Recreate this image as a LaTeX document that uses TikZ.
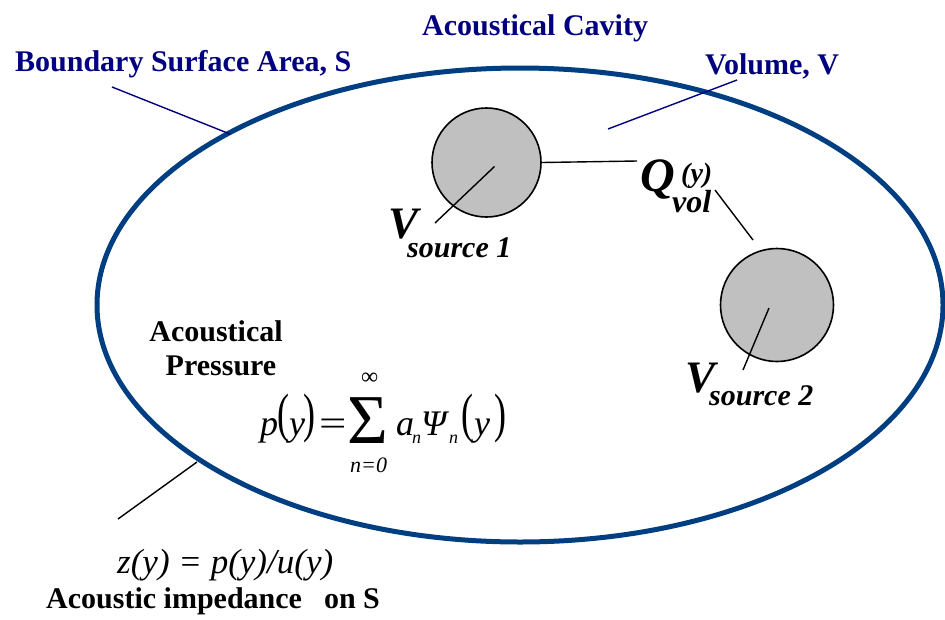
\documentclass[tikz,border=0pt]{standalone}
\usepackage{fontspec}
\usepackage{graphicx}
\setmainfont{Liberation Serif}
\definecolor{navytext}{RGB}{0,0,128}
\definecolor{cavblue}{RGB}{0,62,130}
\definecolor{srcgray}{RGB}{192,192,192}
\tikzset{
  lbl/.style={anchor=base west, inner sep=0pt, font=\fontsize{30}{34}\selectfont\bfseries},
  navylbl/.style={lbl, text=navytext},
  bi/.style={anchor=base west, inner sep=0pt},
  fm/.style={anchor=base west, inner sep=0pt, font=\fontsize{36}{40}\selectfont\itshape},
  fup/.style={anchor=base west, inner sep=0pt, font=\fontsize{36}{40}\selectfont},
  fsub/.style={anchor=base west, inner sep=0pt, font=\fontsize{18}{20}\selectfont\itshape},
  srcball/.style={circle, draw=black, line width=1.6pt, fill=srcgray, inner sep=0pt},
  navyleader/.style={draw=navytext, line width=1.4pt},
  leader/.style={draw=black, line width=1.4pt},
}
\begin{document}
\begin{tikzpicture}[x=1pt,y=-1pt]
\useasboundingbox (0,0) rectangle (945,619);
% cavity
\draw[cavblue, line width=5pt] (520,305) ellipse [x radius=423pt, y radius=237pt];
% sources
\node[srcball, minimum size=109pt] (c1) at (486.5,162.5) {};
\node[srcball, minimum size=113pt] (c2) at (777,305) {};
% titles
\node[navylbl] (cav) at (422,35) {Acoustical Cavity};
\node[navylbl] (bsa) at (15,71) {Boundary Surface Area, S};
\node[navylbl] (vol) at (705,74) {Volume, V};
\coordinate (bsa1) at (112,87);
\coordinate (bsa2) at (230,134);
\coordinate (vol1) at (737,80);
\coordinate (vol2) at (608,129);
\draw[navyleader] (bsa1) -- (bsa2);
\draw[navyleader] (vol1) -- (vol2);
% Q vol
\node[bi, font=\fontsize{48}{50}\selectfont\bfseries\itshape] (Q) at (640,191) {Q};
\node[bi, font=\fontsize{28}{30}\selectfont\bfseries\itshape] (Qy) at (681,182) {(y)};
\node[bi, font=\fontsize{32}{34}\selectfont\bfseries\itshape] (Qv) at (672,212) {vol};
\coordinate (q1) at (637,161);
\coordinate (q2a) at (715,190);
\coordinate (q2b) at (753,240);
\draw[leader] (c1.east) -- (q1);
\draw[leader] (q2a) -- (q2b);
% V source labels
\node[bi, font=\fontsize{45}{47}\selectfont\bfseries\itshape] (V1) at (388,238) {V};
\node[bi, font=\fontsize{30}{32}\selectfont\bfseries\itshape] (s1) at (407,257) {source 1};
\node[bi, font=\fontsize{45}{47}\selectfont\bfseries\itshape] (V2) at (685,392) {V};
\node[bi, font=\fontsize{30}{32}\selectfont\bfseries\itshape] (s2) at (709,405) {source 2};
\coordinate (v1e) at (435,223);
\coordinate (v2e) at (743,370);
\draw[leader] ([xshift=8pt,yshift=-4pt]c1.center) -- (v1e);
\draw[leader] ([xshift=-8pt,yshift=-3pt]c2.center) -- (v2e);
% acoustical pressure
\node[lbl, anchor=base] (ap1) at (216,341) {Acoustical};
\node[lbl, anchor=base] (ap2) at (221,375) {Pressure};
% formula
\node[fm] (fp) at (260,435) {p};
\node[fup] (flp) at (277,431) {\scalebox{1}[1.5]{(}};
\node[fm] (fy) at (289,435) {y};
\node[fup] (frp) at (303,431) {\scalebox{1}[1.5]{)}};
\node[fup] (feq) at (319,435) {\scalebox{1.35}[1]{=}};
\node[anchor=base west, inner sep=0pt, font=\fontsize{70}{72}\selectfont] (fsig) at (347,443) {Σ};
\node[anchor=base west, inner sep=0pt, font=\fontsize{24}{26}\selectfont] (finf) at (361,384) {∞};
\node[anchor=base west, inner sep=0pt, font=\fontsize{22}{24}\selectfont\itshape] (fn0) at (350,472) {n=0};
\node[fm] (fa) at (396,435) {a};
\node[fsub] (fn1) at (412,443) {n};
\node[fm] (fpsi) at (421,435) {Ψ};
\node[fsub] (fn2) at (449,443) {n};
\node[fup] (flp2) at (461,431) {\scalebox{1}[1.5]{(}};
\node[fm] (fy2) at (474,435) {y};
\node[fup] (frp2) at (494,431) {\scalebox{1}[1.5]{)}};
% impedance
\coordinate (z1) at (118,519);
\coordinate (z2) at (197,462);
\draw[leader] (z1) -- (z2);
\node[bi, font=\fontsize{35}{37}\selectfont\itshape] (zf) at (117,573) {z(y) = p(y)/u(y)};
\node[lbl] (ai) at (46,608) {Acoustic impedance\hspace{22pt}on S};
\end{tikzpicture}
\end{document}
